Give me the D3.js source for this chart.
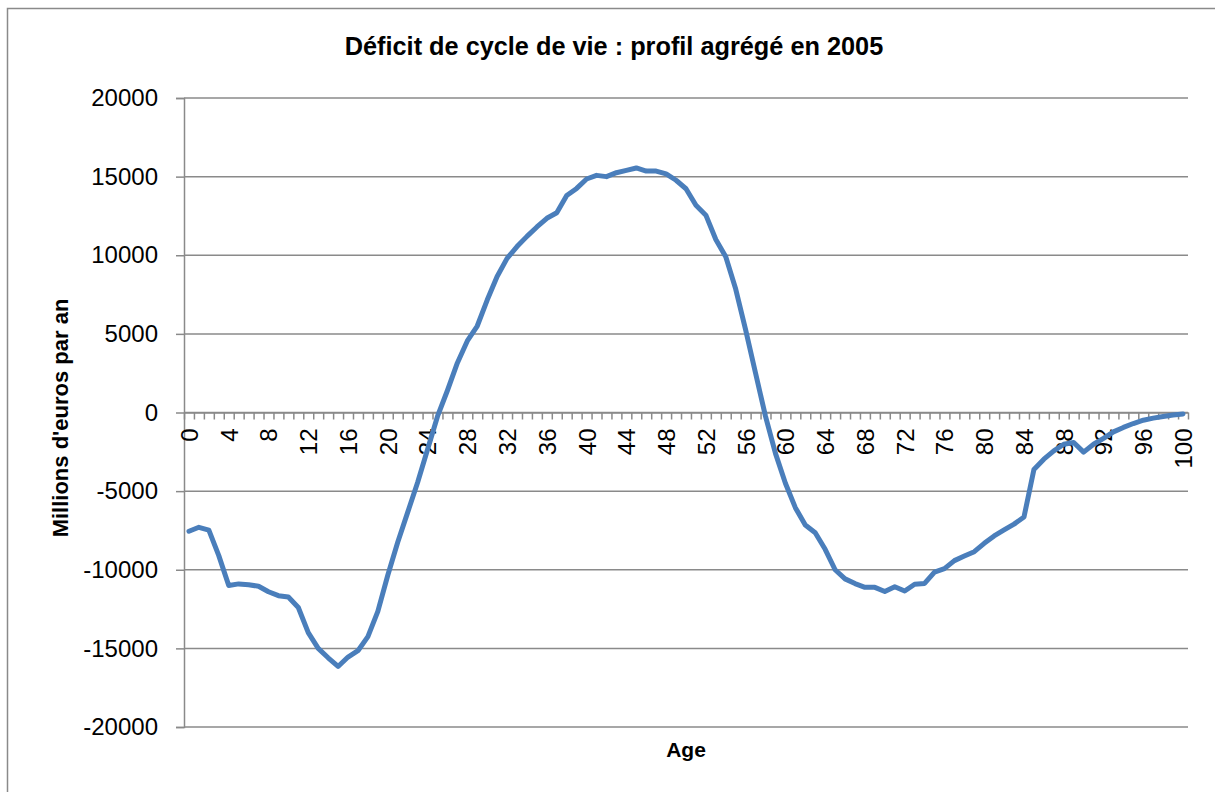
<!DOCTYPE html>
<html>
<head>
<meta charset="utf-8">
<script src="https://cdn.jsdelivr.net/npm/d3@7/dist/d3.min.js"></script>
<style>
  html, body { margin: 0; padding: 0; background: #ffffff; }
  svg { display: block; }
  text { font-family: "Liberation Sans", Arial, sans-serif; fill: #000; }
</style>
</head>
<body>
<svg id="chart" width="1215" height="792"></svg>
<script>
// Ages 0 to 100
const ages = d3.range(0, 101);

// Life-cycle deficit by age, millions of euros per year (2005)
const deficit = [
  -7550, -7300, -7480, -9100, -11000, -10900, -10950, -11050, -11400, -11650,
  -11730, -12400, -14000, -15000, -15600, -16150, -15550, -15150, -14250, -12650,
  -10350, -8250, -6350, -4450, -2350, -250, 1400, 3150, 4550, 5500,
  7150, 8650, 9800, 10550, 11200, 11800, 12350, 12700, 13800, 14250,
  14850, 15080, 15000, 15250, 15400, 15550, 15350, 15350, 15180, 14770,
  14230, 13180, 12550, 11000, 9900, 7850, 5250, 2500, -250, -2600,
  -4500, -6050, -7150, -7650, -8700, -10000, -10580, -10880, -11120, -11120,
  -11380, -11080, -11350, -10920, -10870, -10150, -9930, -9420, -9130, -8850,
  -8320, -7850, -7470, -7100, -6650, -3620, -2970, -2440, -2020, -1910,
  -2520, -2020, -1640, -1230, -950, -700, -490, -360, -250, -160,
  -90
];

// Axis ticks and labels
const yTicks = [20000, 15000, 10000, 5000, 0, -5000, -10000, -15000, -20000];
const xTickLabels = d3.range(0, 101, 4);

const titleText = "Déficit de cycle de vie : profil agrégé en 2005";
const yTitleText = "Millions d'euros par an";
const xTitleText = "Age";

const svg = d3.select("#chart");
const gray = "#8a8a8a";

// Chart frame
svg.append("rect")
  .attr("x", 7.5).attr("y", 8.5)
  .attr("width", 1240).attr("height", 820)
  .attr("fill", "#fff")
  .attr("stroke", gray).attr("stroke-width", 1.5);

const plot = { left: 184, right: 1188, top: 98, bottom: 727 };

// Categories sit between tick marks
const x = d3.scaleLinear().domain([-0.5, 100.5]).range([plot.left, plot.right]);
const y = d3.scaleLinear().domain([-20000, 20000]).range([plot.bottom, plot.top]);

// Plain hyphen-minus for negative numbers
const plain = d => String(d);

// Horizontal gridlines
svg.append("g")
  .selectAll("line")
  .data(yTicks)
  .join("line")
  .attr("x1", plot.left).attr("x2", plot.right)
  .attr("y1", d => y(d)).attr("y2", d => y(d))
  .attr("stroke", gray).attr("stroke-width", 1.5);

// Vertical axis with outside ticks and labels
const yAxis = svg.append("g")
  .attr("transform", `translate(${plot.left},0)`)
  .call(d3.axisLeft(y).tickValues(yTicks).tickSize(8).tickPadding(18).tickFormat(plain));
yAxis.select(".domain").attr("stroke", gray).attr("stroke-width", 1.5);
yAxis.selectAll(".tick line").attr("stroke", gray).attr("stroke-width", 1.5);
yAxis.selectAll(".tick text")
  .attr("font-size", 24)
  .attr("font-family", "\"Liberation Sans\", Arial, sans-serif")
  .attr("fill", "#000");

// Horizontal axis at zero: one tick per category boundary
const boundaries = d3.range(-0.5, 101, 1);
const xAxis = svg.append("g")
  .attr("transform", `translate(0,${y(0)})`)
  .call(d3.axisBottom(x).tickValues(boundaries).tickSize(7).tickSizeOuter(0).tickFormat(""));
xAxis.select(".domain").attr("stroke", gray).attr("stroke-width", 1.5);
xAxis.selectAll(".tick line").attr("stroke", gray).attr("stroke-width", 1.5);

// Age labels, rotated, every fourth year
const xLabels = svg.append("g")
  .attr("transform", `translate(0,${y(0)})`)
  .call(d3.axisBottom(x).tickValues(xTickLabels).tickSize(0).tickFormat(plain));
xLabels.select(".domain").remove();
xLabels.selectAll(".tick text")
  .attr("font-size", 24)
  .attr("font-family", "\"Liberation Sans\", Arial, sans-serif")
  .attr("fill", "#000")
  .attr("text-anchor", "end")
  .attr("transform", "rotate(-90)")
  .attr("x", -16)
  .attr("y", 0)
  .attr("dy", "0.35em");

// Deficit profile
const line = d3.line()
  .x((d, i) => x(ages[i]))
  .y(d => y(d));

svg.append("path")
  .datum(deficit)
  .attr("d", line)
  .attr("fill", "none")
  .attr("stroke", "#4a7ebb")
  .attr("stroke-width", 5)
  .attr("stroke-linejoin", "round")
  .attr("stroke-linecap", "round");

// Titles
svg.append("text")
  .attr("x", 614).attr("y", 55)
  .attr("text-anchor", "middle")
  .attr("font-size", 25.3)
  .attr("font-weight", "bold")
  .text(titleText);

svg.append("text")
  .attr("transform", "translate(60,418) rotate(-90)")
  .attr("text-anchor", "middle")
  .attr("dy", "0.35em")
  .attr("font-size", 22)
  .attr("font-weight", "bold")
  .text(yTitleText);

svg.append("text")
  .attr("x", 686).attr("y", 757)
  .attr("text-anchor", "middle")
  .attr("font-size", 21)
  .attr("font-weight", "bold")
  .text(xTitleText);
</script>
</body>
</html>
